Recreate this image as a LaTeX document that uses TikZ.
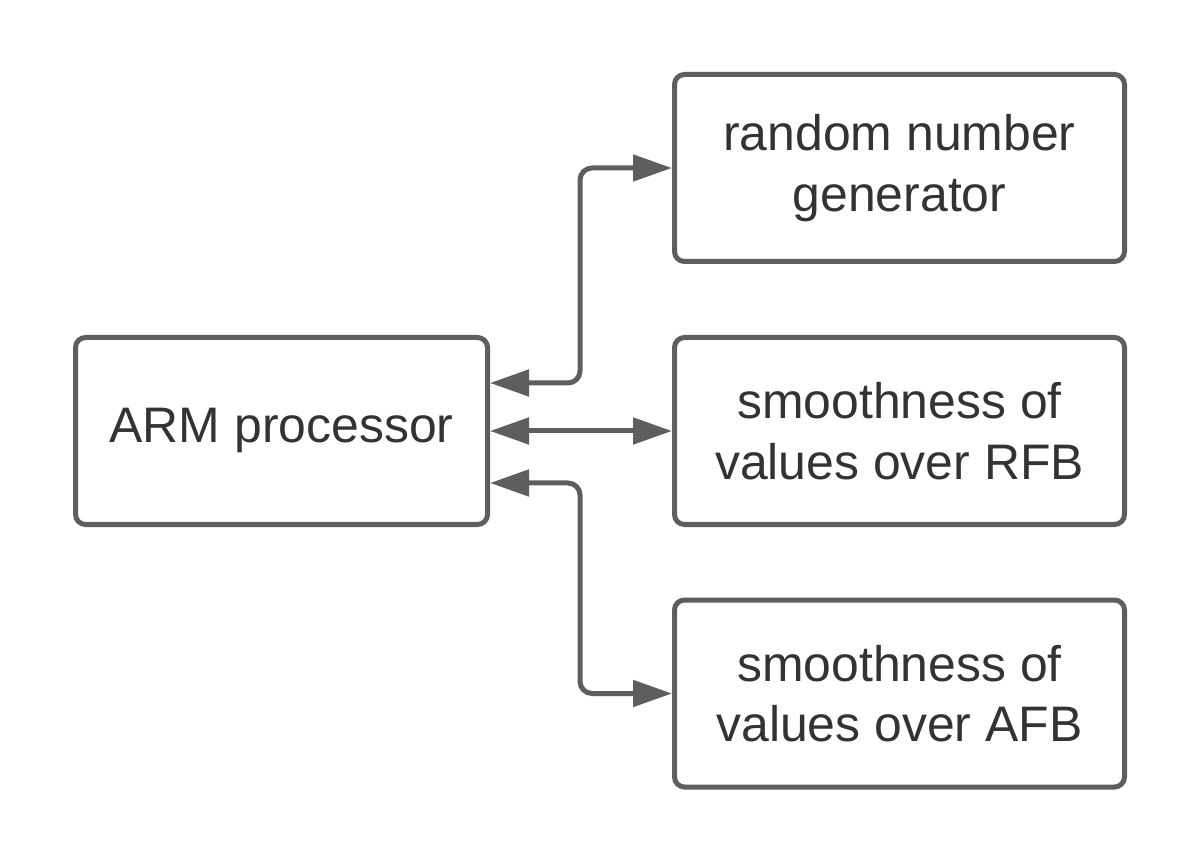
\documentclass[tikz,border=0pt]{standalone}
\usepackage{fontspec}
\setmainfont{Liberation Sans}
\usetikzlibrary{arrows.meta}
\definecolor{linegray}{HTML}{5E5E5E}
\definecolor{textgray}{HTML}{333333}
\tikzset{
  block/.style={draw=linegray, line width=0.1cm, rounded corners=0.2cm, fill=white,
    text=textgray, align=center, minimum height=3.74cm,
    font=\fontsize{28.4}{34.5}\selectfont},
  link/.style={draw=linegray, line width=0.1cm, rounded corners=0.24cm,
    arrows={Triangle[length=0.78cm,width=0.52cm]-Triangle[length=0.78cm,width=0.52cm]}}
}
\begin{document}
\begin{tikzpicture}
\useasboundingbox (0,0) rectangle (24,17.26);
\node[block, minimum width=8.24cm] (arm) at (5.63,8.64) {ARM processor};
\node[block, minimum width=9.0cm] (rng) at (17.99,13.9) {random number\\generator};
\node[block, minimum width=9.0cm] (rfb) at (17.99,8.64) {smoothness of\\values over RFB};
\node[block, minimum width=9.0cm] (afb) at (17.99,3.39) {smoothness of\\values over AFB};
\coordinate (bus) at (11.6,8.64);
\draw[link] ([yshift=0.96cm]arm.east) -- ([yshift=0.96cm]arm.east -| bus) |- (rng.west);
\draw[link] (arm.east) -- (rfb.west);
\draw[link] ([yshift=-1.04cm]arm.east) -- ([yshift=-1.04cm]arm.east -| bus) |- (afb.west);
\end{tikzpicture}
\end{document}
